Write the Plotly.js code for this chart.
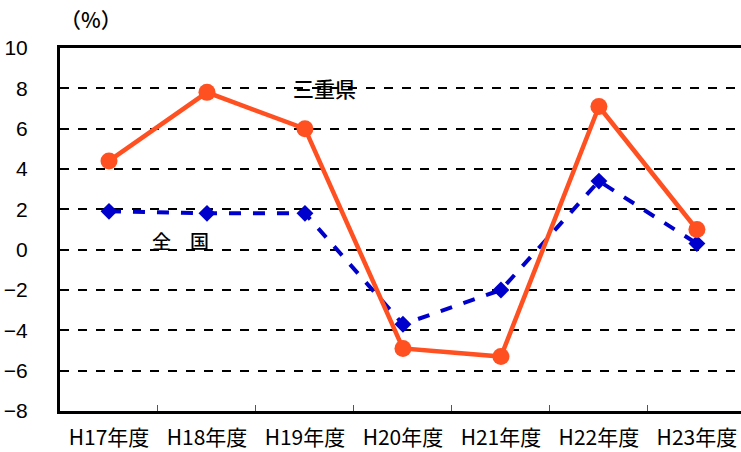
<!DOCTYPE html>
<html><head><meta charset="utf-8">
<script src="https://cdn.plot.ly/plotly-3.0.1.min.js"></script>
<style>html,body{margin:0;padding:0;background:#fff;}</style>
</head><body><div id="chart" style="width:741px;height:452px;"></div>
<script>
const categories = ["H17年度","H18年度","H19年度","H20年度","H21年度","H22年度","H23年度"];
const mie = [4.4, 7.8, 6.0, -4.9, -5.3, 7.1, 1.0];
const national = [1.9, 1.8, 1.8, -3.7, -2.0, 3.4, 0.3];
const yTicks = [-8,-6,-4,-2,0,2,4,6,8,10];

const traces = [
  {x: categories, y: national, type: "scatter", mode: "lines+markers", name: "全国",
   line: {color: "#0000CC", width: 4, dash: "dash"},
   marker: {symbol: "diamond", size: 13, color: "#0000CC"}},
  {x: categories, y: mie, type: "scatter", mode: "lines+markers", name: "三重県",
   line: {color: "#FF5021", width: 4.5},
   marker: {symbol: "circle", size: 17, color: "#FF5021"}}
];

const layout = {
  width: 741, height: 452,
  margin: {l: 60, r: 0, t: 48, b: 41},
  showlegend: false,
  paper_bgcolor: "#fff", plot_bgcolor: "#fff",
  xaxis: {
    type: "category", range: [-0.5, 6.45],
    showline: true, linecolor: "#000", linewidth: 3, mirror: true,
    showgrid: false, ticks: "inside", tickson: "boundaries", ticklen: 6, tickcolor: "#555", tickwidth: 1,
    tickfont: {family: "Noto Sans CJK JP", size: 21, color: "#000"},
    ticklabelstandoff: 6
  },
  yaxis: {
    range: [-8, 10], tickvals: yTicks,
    showline: true, linecolor: "#000", linewidth: 3,
    showgrid: true, gridcolor: "#000", gridwidth: 2, griddash: "dash",
    zeroline: false, ticks: "",
    tickfont: {family: "Liberation Sans", size: 21, color: "#000"},
    ticklabelstandoff: 25
  },
  annotations: [
    {text: "（%）", xref: "paper", yref: "paper", x: 0, y: 1, xanchor: "center", yanchor: "middle", showarrow: false,
     font: {family: "Noto Sans CJK JP", size: 21, color: "#000", weight: 500}},
    {text: "三重県", xref: "x", yref: "y", x: 2.2, y: 8.0, showarrow: false,
     font: {family: "Noto Sans CJK JP", size: 21, color: "#000", weight: 500}},
    {text: "全　国", xref: "x", yref: "y", x: 0.73, y: 0.45, showarrow: false,
     font: {family: "Noto Sans CJK JP", size: 19, color: "#000", weight: 500}}
  ]
};
// position of (%) label in pixels via paper coords
layout.annotations[0].x = (91 - 60) / 681;
layout.annotations[0].y = 1 + (48 - 19) / 363;

Plotly.newPlot("chart", traces, layout, {displayModeBar: false, staticPlot: true});
</script></body></html>
